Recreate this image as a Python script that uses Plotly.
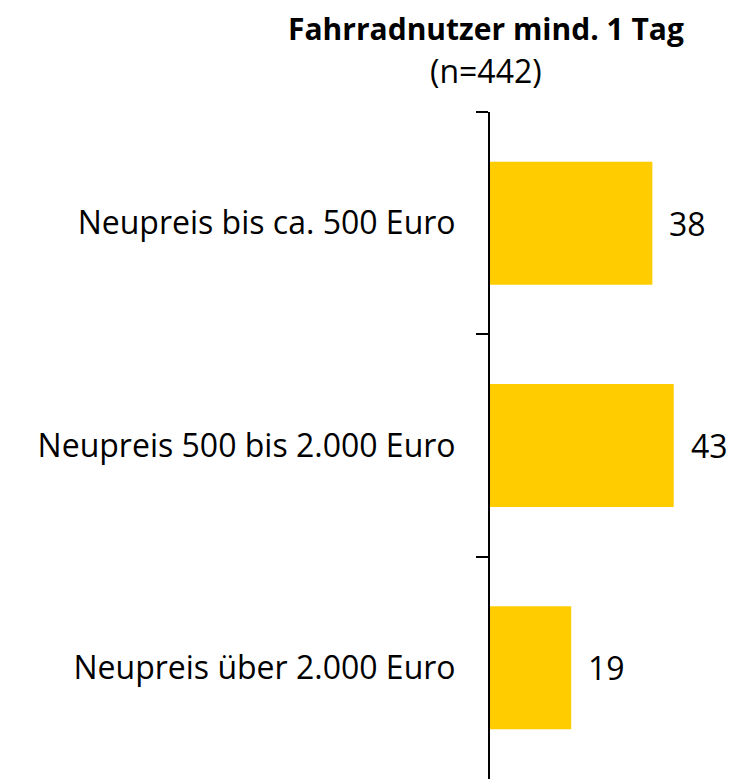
import plotly.graph_objects as go

categories = ["Neupreis bis ca. 500 Euro", "Neupreis 500 bis 2.000 Euro", "Neupreis über 2.000 Euro"]
values = [38, 43, 19]
title_main = "Fahrradnutzer mind. 1 Tag"
title_sub = "(n=442)"

FONT = "Open Sans"
W, H = 735, 771  # page body has an 8px margin
L, R, T, B = 482, 18, 104, 0
PW, PH = W - L - R, H - T - B


def px_to_paper(xf, yf):
    return (xf - L) / PW, (H - B - yf) / PH


fig = go.Figure()
fig.add_trace(go.Bar(
    x=values, y=categories, orientation="h",
    marker=dict(color="#FFCC00", line=dict(width=0)),
    hoverinfo="skip",
))

for v, c in zip(values, categories):
    fig.add_annotation(x=v, y=c, xref="x", yref="y", text=str(v),
                       showarrow=False, xanchor="left", yanchor="middle",
                       xshift=15, font=dict(family=FONT, size=32, color="black"))

tx, ty = px_to_paper(478, 20)
fig.add_annotation(x=tx, y=ty, xref="paper", yref="paper",
                   text=f"<b>{title_main}</b>", showarrow=False,
                   xanchor="center", yanchor="middle",
                   font=dict(family=FONT, size=30, color="black"))
sx, sy = px_to_paper(478, 62)
fig.add_annotation(x=sx, y=sy, xref="paper", yref="paper",
                   text=title_sub, showarrow=False,
                   xanchor="center", yanchor="middle",
                   font=dict(family=FONT, size=32, color="black"))

fig.update_layout(
    width=W, height=H,
    margin=dict(l=L, r=R, t=T, b=B, pad=0),
    paper_bgcolor="white", plot_bgcolor="white",
    bargap=0.447,
    showlegend=False,
    xaxis=dict(visible=False, range=[0, 55], fixedrange=True),
    yaxis=dict(
        type="category", categoryorder="array", categoryarray=categories,
        autorange="reversed", automargin=False,
        showline=True, linecolor="black", linewidth=2,
        ticks="outside", ticklen=12, tickwidth=2, tickcolor="black",
        tickson="boundaries", showgrid=False, zeroline=False,
        ticklabelstandoff=26,
        tickfont=dict(family=FONT, size=32, color="black"),
    ),
)

fig.write_html("out.html")
